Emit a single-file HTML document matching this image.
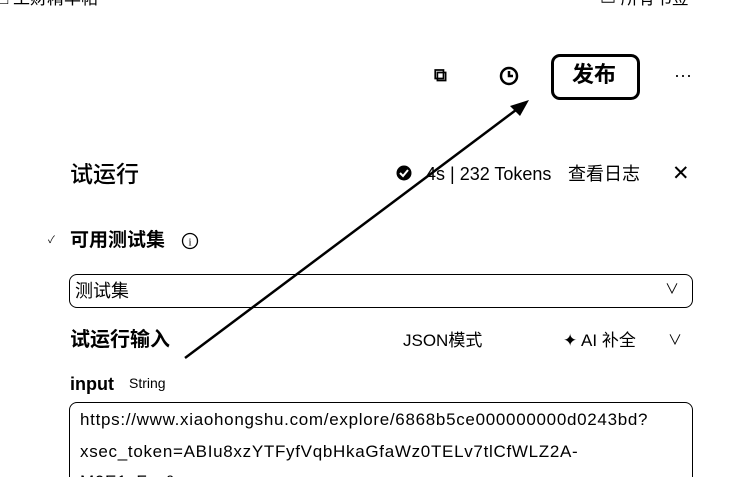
<!DOCTYPE html>
<html><head><meta charset="utf-8"><style>
html,body{margin:0;padding:0;background:#fff;width:729px;height:477px;overflow:hidden;position:relative;font-family:"Liberation Sans","Noto Sans CJK SC",sans-serif;color:#000}
.a{position:absolute;white-space:nowrap;line-height:1}
.b{font-weight:bold}
.u{letter-spacing:0.7px}
</style></head><body>
<div class="a" style="left:-2px;top:-10px;font-size:17px">□ 工财精华帖</div>
<div class="a" style="left:600px;top:-10px;font-size:17px">▭ 所有书签</div>

<div class="a b" style="left:434px;top:66px;font-size:18px">⧉</div>
<svg class="a" style="left:498px;top:65px" width="22" height="22" viewBox="0 0 22 22"><circle cx="11" cy="11" r="8" fill="none" stroke="#000" stroke-width="2.5"/><path d="M11 6v5h4" stroke="#000" stroke-width="2.5" fill="none"/></svg>
<div class="a" style="left:551px;top:54px;width:83px;height:40px;border:3px solid #000;border-radius:9px"></div>
<div class="a b" style="left:572px;top:64px;font-size:22px">发布</div>
<div class="a" style="left:674px;top:66px;font-size:18px">···</div>

<div class="a" style="left:70px;top:163px;font-size:23px;font-weight:500">试运行</div>
<svg class="a" style="left:395px;top:164px" width="18" height="18"><circle cx="9" cy="9" r="7.5" fill="#000"/><path d="M5 9l3 3 5-6" stroke="#fff" stroke-width="2" fill="none"/></svg>
<div class="a" style="left:426px;top:165px;font-size:18px">4s | 232 Tokens</div>
<div class="a" style="left:568px;top:165px;font-size:18px">查看日志</div>
<div class="a" style="left:672px;top:163px;font-size:21px">✕</div>

<div class="a" style="left:48px;top:236px;font-size:10px">✓</div>
<div class="a b" style="left:70px;top:231px;font-size:19px">可用测试集</div>
<svg class="a" style="left:181px;top:232px" width="18" height="18"><circle cx="9" cy="9" r="7.5" fill="none" stroke="#000" stroke-width="1.3"/><text x="9" y="13.5" font-size="11" text-anchor="middle" font-family="Liberation Serif">i</text></svg>

<div class="a" style="left:69px;top:274px;width:622px;height:32px;border:1.5px solid #000;border-radius:8px"></div>
<div class="a" style="left:75px;top:282px;font-size:18px">测试集</div>
<div class="a" style="left:665px;top:282px;font-size:14px">∨</div>

<div class="a b" style="left:70px;top:330px;font-size:20px">试运行输入</div>
<div class="a" style="left:403px;top:332px;font-size:17px">JSON模式</div>
<div class="a" style="left:563px;top:332px;font-size:17px">✦ AI 补全</div>
<div class="a" style="left:668px;top:333px;font-size:14px">∨</div>

<div class="a b" style="left:70px;top:375px;font-size:18px">input</div>
<div class="a" style="left:129px;top:376px;font-size:14px">String</div>

<div class="a" style="left:69px;top:402px;width:622px;height:90px;border:1.5px solid #000;border-radius:8px"></div>
<div class="a u" style="left:80px;top:411px;font-size:17px">https://www.xiaohongshu.com/explore/6868b5ce000000000d0243bd?</div>
<div class="a u" style="left:80px;top:443px;font-size:17px">xsec_token=ABIu8xzYTFyfVqbHkaGfaWz0TELv7tlCfWLZ2A-</div>
<div class="a u" style="left:80px;top:473px;font-size:17px">M0E1xFr=&amp;xsec_source</div>

<svg class="a" style="left:0;top:0" width="729" height="477"><line x1="185" y1="358" x2="520" y2="107" stroke="#000" stroke-width="2.5"/><polygon points="529,100 510,106 520,116" fill="#000"/></svg>
</body></html>
